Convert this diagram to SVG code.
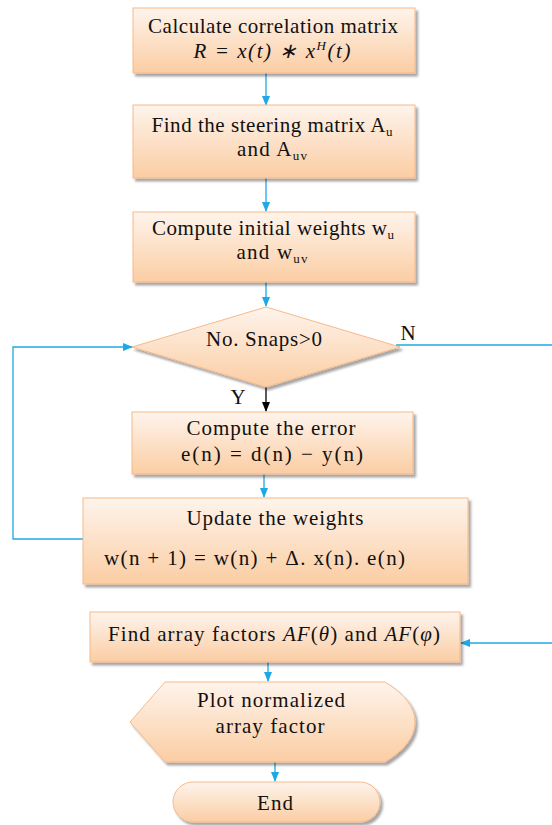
<svg xmlns="http://www.w3.org/2000/svg" width="552" height="825" viewBox="0 0 552 825">
<defs>
<linearGradient id="g" x1="0" y1="0" x2="0" y2="1">
<stop offset="0" stop-color="#fef4ec"/>
<stop offset="1" stop-color="#fbcda3"/>
</linearGradient>
<filter id="sh" x="-5%" y="-10%" width="115%" height="130%">
<feDropShadow dx="2.5" dy="3" stdDeviation="1.2" flood-color="#000" flood-opacity="0.35"/>
</filter>
<marker id="ab" markerWidth="10" markerHeight="8" refX="9" refY="4" orient="auto" markerUnits="userSpaceOnUse">
<path d="M0,0 L10,4 L0,8 Z" fill="#1fa8e6"/>
</marker>
<marker id="ak" markerWidth="10" markerHeight="8" refX="9" refY="4" orient="auto" markerUnits="userSpaceOnUse">
<path d="M0,0 L10,4 L0,8 Z" fill="#000"/>
</marker>
</defs>
<style>
.n{fill:url(#g);stroke:#f6b98a;stroke-width:1;filter:url(#sh)}
.t{font-family:"Liberation Serif","Times New Roman",serif;font-size:21px;fill:#111;text-anchor:middle}
.m{font-style:italic}
.s{font-size:13px}
.c{fill:none;stroke:#1fa8e6;stroke-width:1.3}
.k{fill:none;stroke:#000;stroke-width:1.3}
</style>
<g id="connectors">
<line class="c" x1="266" y1="73" x2="266" y2="105" marker-end="url(#ab)"/>
<line class="c" x1="266" y1="178" x2="266" y2="211" marker-end="url(#ab)"/>
<line class="c" x1="266" y1="282" x2="266" y2="306" marker-end="url(#ab)"/>
<line class="k" x1="266" y1="387" x2="266" y2="411" marker-end="url(#ak)"/>
<line class="c" x1="264" y1="474" x2="264" y2="497" marker-end="url(#ab)"/>
<polyline class="c" points="84,539 13,539 13,347 132,347" marker-end="url(#ab)"/>
<line class="c" x1="396" y1="345" x2="552" y2="345"/>
<line class="c" x1="552" y1="643" x2="461" y2="643" marker-end="url(#ab)"/>
<line class="c" x1="268" y1="662" x2="268" y2="681" marker-end="url(#ab)"/>
<line class="c" x1="275" y1="762" x2="275" y2="781" marker-end="url(#ab)"/>
<text class="t" x="238" y="404">Y</text>
<text class="t" x="408" y="340">N</text>
</g>
<g id="n1">
<rect class="n" x="133" y="8" width="282" height="65"/>
<text class="t" x="273" y="33" textLength="250" lengthAdjust="spacing">Calculate correlation matrix</text>
<text class="t m" x="272" y="58" textLength="157" lengthAdjust="spacing">R = x(t) ∗ x<tspan class="s" dy="-8">H</tspan><tspan dy="8">(t)</tspan></text>
</g>
<g id="n2">
<rect class="n" x="133" y="105" width="282" height="73"/>
<text class="t" x="272" y="132" textLength="241" lengthAdjust="spacing">Find the steering matrix A<tspan class="s" dy="4">u</tspan></text>
<text class="t" x="272" y="156" textLength="70" lengthAdjust="spacing">and A<tspan class="s" dy="4">uv</tspan></text>
</g>
<g id="n3">
<rect class="n" x="133" y="212" width="282" height="70"/>
<text class="t" x="273" y="235" textLength="242" lengthAdjust="spacing">Compute initial weights w<tspan class="s" dy="4">u</tspan></text>
<text class="t" x="272" y="259" textLength="71" lengthAdjust="spacing">and w<tspan class="s" dy="4">uv</tspan></text>
</g>
<g id="n4">
<polygon class="n" points="266,307 400,347 266,387 132,347"/>
<text class="t" x="264" y="346" textLength="116" lengthAdjust="spacing">No. Snaps&gt;0</text>
</g>
<g id="n5">
<rect class="n" x="132" y="412" width="281" height="62"/>
<text class="t" x="271" y="435" textLength="169" lengthAdjust="spacing">Compute the error</text>
<text class="t" x="272" y="461" textLength="182" lengthAdjust="spacing">e(n) = d(n) − y(n)</text>
</g>
<g id="n6">
<rect class="n" x="83" y="498" width="385" height="86"/>
<text class="t" x="275" y="525" textLength="177" lengthAdjust="spacing">Update the weights</text>
<text class="t" x="104" y="565" style="text-anchor:start" textLength="301" lengthAdjust="spacing">w(n + 1) = w(n) + Δ. x(n). e(n)</text>
</g>
<g id="n7">
<rect class="n" x="90" y="612" width="370" height="50"/>
<text class="t" x="108" y="641" style="text-anchor:start" textLength="332" lengthAdjust="spacing">Find array factors <tspan class="m">AF</tspan>(<tspan class="m">θ</tspan>) and <tspan class="m">AF</tspan>(<tspan class="m">φ</tspan>)</text>
</g>
<g id="n8">
<path class="n" d="M130,722 L165,682 L385,682 Q415,700 415,722 Q415,744 385,762 L165,762 Z"/>
<text class="t" x="271" y="707" textLength="148" lengthAdjust="spacing">Plot normalized</text>
<text class="t" x="270" y="733" textLength="109" lengthAdjust="spacing">array factor</text>
</g>
<g id="n9">
<rect class="n" x="173" y="782" width="207" height="40" rx="20" ry="20"/>
<text class="t" x="275" y="810" textLength="36" lengthAdjust="spacing">End</text>
</g>
</svg>
